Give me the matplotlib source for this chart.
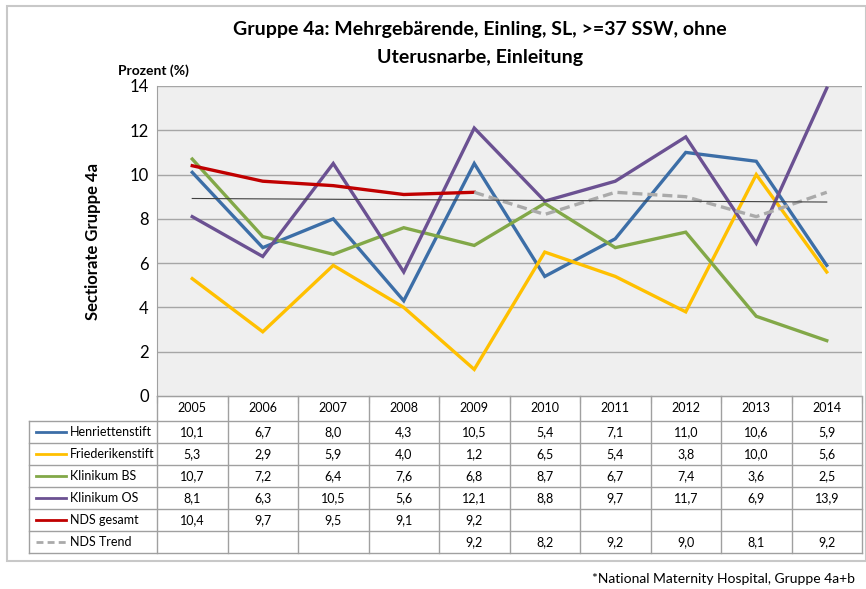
import numpy as np
import matplotlib
matplotlib.use("Agg")
import matplotlib.pyplot as plt
from matplotlib.lines import Line2D

plt.rcParams['font.family'] = ['Lato', 'DejaVu Sans']

# data
years = ['2005', '2006', '2007', '2008', '2009', '2010', '2011', '2012', '2013', '2014']
henriettenstift = [10.1, 6.7, 8.0, 4.3, 10.5, 5.4, 7.1, 11.0, 10.6, 5.9]
friederikenstift = [5.3, 2.9, 5.9, 4.0, 1.2, 6.5, 5.4, 3.8, 10.0, 5.6]
klinikum_bs = [10.7, 7.2, 6.4, 7.6, 6.8, 8.7, 6.7, 7.4, 3.6, 2.5]
klinikum_os = [8.1, 6.3, 10.5, 5.6, 12.1, 8.8, 9.7, 11.7, 6.9, 13.9]
nds_gesamt = [10.4, 9.7, 9.5, 9.1, 9.2, None, None, None, None, None]
nds_trend = [None, None, None, None, 9.2, 8.2, 9.2, 9.0, 8.1, 9.2]
lin_trend = [8.92, 8.76]   # thin linear trend, first and last year

labels = ['Henriettenstift', 'Friederikenstift', 'Klinikum BS', 'Klinikum OS',
          'NDS gesamt', 'NDS Trend']
series = [henriettenstift, friederikenstift, klinikum_bs, klinikum_os,
          nds_gesamt, nds_trend]
colors = ['#3C6EA7', '#FFC000', '#82A848', '#6B5192', '#C00000', '#AAAAAA']
styles = ['-', '-', '-', '-', '-', '--']

W, H = 866, 589
fig = plt.figure(figsize=(W / 100, H / 100), dpi=100)


def px(x0, y0, x1, y1):
    return [x0 / W, 1 - y1 / H, (x1 - x0) / W, (y1 - y0) / H]


# outer chart frame
fig.patches.append(plt.Rectangle((7 / W, 1 - 561 / H), (866 - 7) / W, (561 - 6) / H,
                                 transform=fig.transFigure, fill=False,
                                 edgecolor='#C8C8C8', lw=1.5))

ax = fig.add_axes(px(157, 86, 862, 396))
ax.set_facecolor('#EFEFEF')
x = np.arange(len(years))
for vals, c, ls in zip(series, colors, styles):
    v = np.array([np.nan if a is None else a for a in vals], dtype=float)
    ax.plot(x, v, color=c, lw=2.4, ls=ls, dashes=(3, 1.5) if ls == '--' else (None, None),
            solid_joinstyle='miter', zorder=3)
ax.plot([x[0], x[-1]], lin_trend, color='#404040', lw=0.8, zorder=4)

ax.set_xlim(-0.5, len(years) - 0.5)
ax.set_ylim(0, 14)
ax.set_yticks(range(0, 15, 2))
ax.yaxis.grid(True, color='#A6A6A6', lw=1)
ax.set_axisbelow(True)
ax.set_xticks(np.arange(-0.5, len(years)), labels=[''] * (len(years) + 1))
ax.tick_params(axis='x', length=5, color='#A0A0A0', direction='out')
ax.tick_params(axis='y', length=0, labelsize=12, pad=6)
for s in ['top', 'right']:
    ax.spines[s].set_visible(False)
for s in ['left', 'bottom']:
    ax.spines[s].set_color('#A0A0A0')

fig.text(480 / W, 1 - 30 / H, 'Gruppe 4a: Mehrgebärende, Einling, SL, >=37 SSW, ohne',
         ha='center', va='center', fontsize=14, fontweight='bold')
fig.text(480 / W, 1 - 57 / H, 'Uterusnarbe, Einleitung',
         ha='center', va='center', fontsize=14, fontweight='bold')
fig.text(153 / W, 1 - 71 / H, 'Prozent (%)', ha='center', va='center',
         fontsize=10, fontweight='bold')
fig.text(93 / W, 1 - 241 / H, 'Sectiorate Gruppe 4a', ha='center', va='center',
         rotation=90, fontsize=12, fontweight='bold')
fig.text(855 / W, 1 - 579 / H, '*National Maternity Hospital, Gruppe 4a+b',
         ha='right', va='center', fontsize=10)

# data table below the plot
tab = fig.add_axes(px(29, 396, 862, 553))
left_units = (157 - 29) / ((862 - 157) / len(years))
tab.set_xlim(-0.5 - left_units, len(years) - 0.5)
header_h = 25 / 22
tab.set_ylim(len(labels) + header_h, 0)
tab.axis('off')
gc = '#A0A0A0'
xl = -0.5 - left_units
# horizontal lines
tab.plot([-0.5, len(years) - 0.5], [0, 0], color=gc, lw=1)
for r in range(len(labels) + 1):
    y = header_h + r
    tab.plot([xl, len(years) - 0.5], [y, y], color=gc, lw=1, clip_on=False)
# vertical lines
tab.plot([xl, xl], [header_h, header_h + len(labels)], color=gc, lw=1, clip_on=False)
for i in range(len(years) + 1):
    tab.plot([i - 0.5, i - 0.5], [0, header_h + len(labels)], color=gc, lw=1, clip_on=False)
for i, yr in enumerate(years):
    tab.text(i, header_h / 2, yr, ha='center', va='center', fontsize=9)
for r, (lab, vals, c, ls) in enumerate(zip(labels, series, colors, styles)):
    yc = header_h + r + 0.5
    tab.add_line(Line2D([xl + 0.1, xl + 0.52], [yc, yc], color=c, lw=2,
                        ls=ls, dashes=(2.5, 1.5) if ls == '--' else (None, None)))
    tab.text(xl + 0.58, yc, lab, ha='left', va='center', fontsize=9)
    for i, v in enumerate(vals):
        if v is not None:
            tab.text(i, yc, f'{v:.1f}'.replace('.', ','), ha='center', va='center',
                     fontsize=9)

fig.savefig('out.png', dpi=100)
